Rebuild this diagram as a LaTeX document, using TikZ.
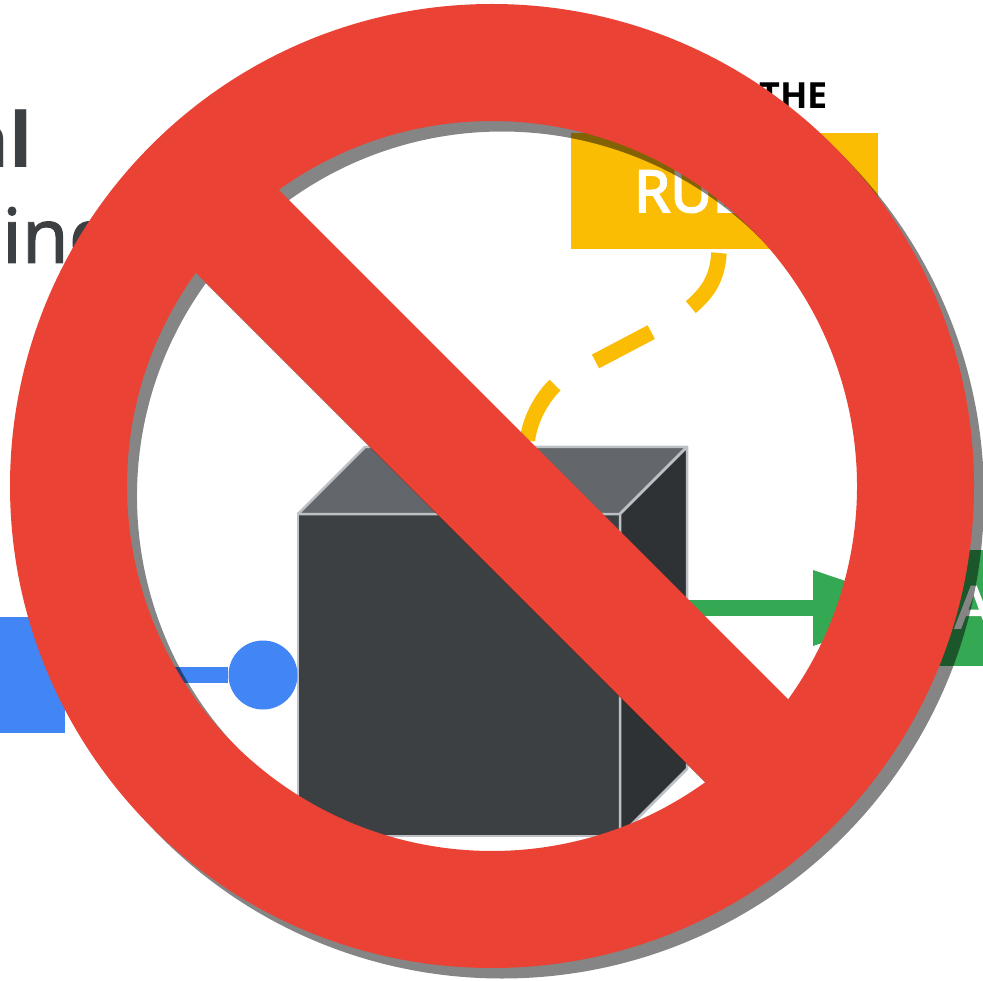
\documentclass[tikz,border=0pt]{standalone}
\usepackage{fontspec}
\setmainfont{Open Sans}
\definecolor{gblue}{HTML}{4285F4}
\definecolor{ggreen}{HTML}{34A853}
\definecolor{gyellow}{HTML}{FBBC04}
\definecolor{gred}{HTML}{EA4335}
\definecolor{ggrey}{HTML}{3C4043}
\definecolor{gedge}{HTML}{BDC1C6}
\definecolor{gtop}{HTML}{63666A}
\definecolor{gside}{HTML}{2F3234}
\newfontface\headmedium[FakeBold=1.2]{Noto Sans}
\newfontface\boxmedium[FakeBold=3]{Noto Sans}
\newcommand{\NoSignPath}{
  (0,0) circle[radius=482pt]
  (-35.75:365pt) arc[start angle=-35.75,end angle=125.75,radius=365pt] -- cycle
  (144.25:365pt) arc[start angle=144.25,end angle=305.75,radius=365pt] -- cycle
}
\tikzset{
  labelbox/.style={minimum width=307pt,minimum height=116pt,inner sep=0pt,outer sep=0pt,draw=none},
  headtext/.style={text=ggrey,inner sep=0pt},
  boxtext/.style={text=white,font=\boxmedium\fontsize{58}{58}\selectfont,inner sep=0pt},
  cubeedge/.style={draw=gedge,line width=2.5pt,line join=round},
  flow/.style={line width=15.5pt},
  dashlink/.style={draw=gyellow,line width=15.5pt,dash pattern=on 63pt off 47pt},
}
\begin{document}
\begin{tikzpicture}[x=1pt,y=-1pt]
\useasboundingbox (0,0) rectangle (983,981);
\clip (0,0) rectangle (983,981);
% heading fragments
\node[headtext,anchor=base east,font=\bfseries\fontsize{76}{76}\selectfont] (headA) at (33,168) {al};
\node[headtext,anchor=base west,font=\headmedium\fontsize{76}{76}\selectfont] (headB) at (2,263) {ing};
\node[anchor=base east,inner sep=0pt,font=\bfseries\fontsize{36}{36}\selectfont] (the) at (828,109) {THE};
% boxes
\node[labelbox,fill=gyellow,anchor=north west] (rules) at (571,133) {};
\node[boxtext,anchor=base west] (rulestext) at (634,212) {RUL};
\node[labelbox,fill=gblue,anchor=north east] (input) at (65,617) {};
\node[labelbox,fill=ggreen,anchor=north west] (output) at (925,550) {};
\node[boxtext,anchor=base west] (outputtext) at (955,628) {A};
% cube
\coordinate (fa) at (298,514);
\coordinate (fb) at (620,514);
\coordinate (fc) at (620,836);
\coordinate (fd) at (298,836);
\coordinate (ba) at (365,447);
\coordinate (bb) at (687,447);
\coordinate (bc) at (687,769);
\filldraw[cubeedge,fill=ggrey] (fa) -- (fb) -- (fc) -- (fd) -- cycle;
\filldraw[cubeedge,fill=gtop] (fa) -- (ba) -- (bb) -- (fb) -- cycle;
\filldraw[cubeedge,fill=gside] (fb) -- (bb) -- (bc) -- (fc) -- cycle;
% connectors
\node[circle,fill=gblue,minimum size=69pt,inner sep=0pt] (dot) at (263,675) {};
\draw[flow,draw=gblue] (input.east |- dot) -- (dot);
\coordinate (gstart) at (687,608);
\coordinate (gbase) at (813,608);
\coordinate (gtip) at (925,608);
\draw[flow,draw=ggreen] (gstart) -- (gbase);
\fill[ggreen] (813,570) -- (gtip) -- (813,646) -- cycle;
\coordinate (yA) at (719,253);
\coordinate (yB) at (527,447);
\draw[dashlink] (yA) .. controls (717,282) and (706,298) .. (672,321.2) -- (566,377) .. controls (547,387) and (527,420) .. (yB);
% no sign
\begin{scope}[shift={(502,496.5)},x=1pt,y=1pt]
  \fill[black,opacity=0.48,even odd rule] \NoSignPath;
\end{scope}
\begin{scope}[shift={(492,486)},x=1pt,y=1pt]
  \fill[gred,even odd rule] \NoSignPath;
\end{scope}
\end{tikzpicture}
\end{document}
